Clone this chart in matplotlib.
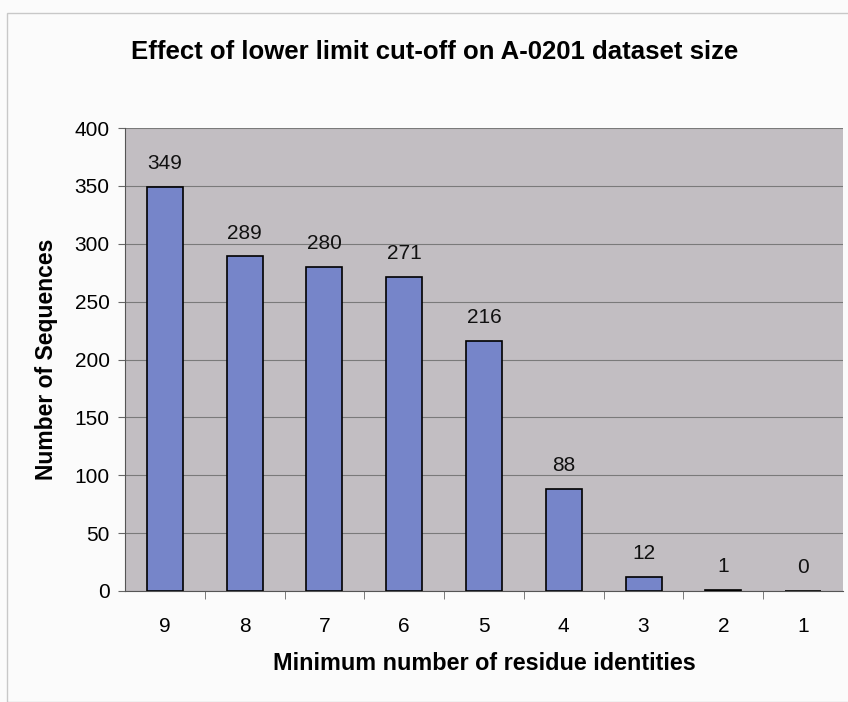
import matplotlib.pyplot as plt
from matplotlib.patches import Rectangle

plt.rcParams["font.family"] = ["Liberation Sans", "DejaVu Sans"]

categories = ["9", "8", "7", "6", "5", "4", "3", "2", "1"]
counts = [349, 289, 280, 271, 216, 88, 12, 1, 0]

fig = plt.figure(figsize=(8.48, 7.02), dpi=100)
fig.patch.set_facecolor("#fbfbfb")
# chart frame like the Excel chart border
fig.add_artist(Rectangle((7 / 848, 0.0), 1.0, 1 - 13 / 702, transform=fig.transFigure,
                         fill=False, edgecolor="#c8c8c8", linewidth=1.0))

ax = fig.add_axes([125 / 848, 1 - 591 / 702, (843 - 125) / 848, (591 - 128) / 702])
ax.set_facecolor("#c2bec2")

x = list(range(len(categories)))
bars = ax.bar(x, counts, width=0.45, color="#7685c9", edgecolor="black", linewidth=1.2, zorder=3)
for xi, v in zip(x, counts):
    ax.text(xi, v + 12, str(v), ha="center", va="bottom", fontsize=15, color="#111111")

ax.set_xlim(-0.5, len(categories) - 0.5)
ax.set_ylim(0, 400)
ax.set_yticks(range(0, 401, 50))
ax.yaxis.grid(True, color="#7a7a7a", linewidth=0.8, zorder=0)
ax.set_axisbelow(True)

ax.set_xticks(x)
ax.set_xticklabels(categories, fontsize=15)
ax.tick_params(axis="x", length=0, pad=19)
ax.set_xticks([i + 0.5 for i in x[:-1]], minor=True)
ax.tick_params(axis="x", which="minor", length=6, color="#666666")
ax.tick_params(axis="y", labelsize=15, length=5, color="#666666", pad=6)

for side in ["top", "right"]:
    ax.spines[side].set_visible(False)
ax.spines["left"].set_color("#555555")
ax.spines["bottom"].set_color("#555555")

ax.set_xlabel("Minimum number of residue identities", fontsize=16.8, fontweight="bold", labelpad=11)
ax.set_ylabel("Number of Sequences", fontsize=16.5, fontweight="bold", labelpad=12)
fig.text(435 / 848, 1 - 52 / 702, "Effect of lower limit cut-off on A-0201 dataset size",
         ha="center", va="center", fontsize=18.5, fontweight="bold")

fig.savefig("out.png", dpi=100, facecolor=fig.get_facecolor())
